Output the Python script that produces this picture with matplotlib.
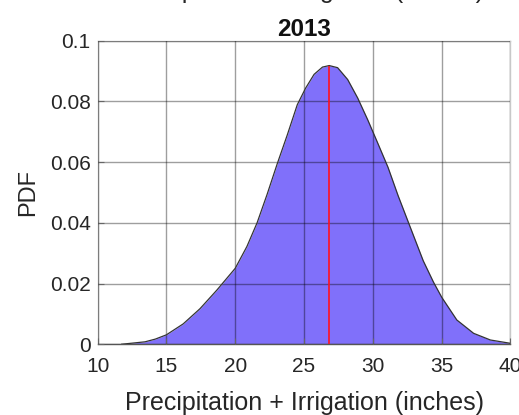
import numpy as np
import matplotlib.pyplot as plt

plt.rcParams['font.family'] = ['Liberation Sans', 'DejaVu Sans']

# kernel density estimate of seasonal water input (precip + irrigation), 2013
water_in = [11.75, 12.6, 13.45, 14.2, 15.0, 16.22, 17.44, 18.66, 20.0,
            20.85, 21.59, 22.32, 23.05, 23.78, 24.51, 25.12, 25.73, 26.34,
            26.83, 27.44, 28.17, 28.9, 29.63, 30.37, 31.1, 31.83, 32.68,
            33.66, 34.4, 35.0, 36.1, 37.32, 38.54, 40.0]
pdf = [0.0, 0.0004, 0.0008, 0.0017, 0.0031, 0.0067, 0.0117, 0.0178, 0.025,
       0.0322, 0.040, 0.0494, 0.0594, 0.0689, 0.0789, 0.0844, 0.0889, 0.0913,
       0.0918, 0.0911, 0.0872, 0.0811, 0.0739, 0.0661, 0.0583, 0.049, 0.039,
       0.0275, 0.0205, 0.0155, 0.008, 0.0036, 0.0014, 0.0003]
mode_x = 26.83
mode_pdf = 0.0918

xticks = [10, 15, 20, 25, 30, 35, 40]
yticks = [0, 0.02, 0.04, 0.06, 0.08, 0.1]
ytick_labels = ['0', '0.02', '0.04', '0.06', '0.08', '0.1']

fig = plt.figure(figsize=(5.19, 4.15), dpi=100)
ax = fig.add_axes([0.188, 0.1705, 0.7956, 0.7315])

ax.fill_between(water_in, pdf, 0, color='#8070fa', lw=0, zorder=1)
ax.plot(water_in, pdf, color='#333333', lw=0.9, zorder=3)
ax.vlines(mode_x, 0, mode_pdf, color='#ff1020', lw=1.2, zorder=4)

ax.set_xlim(10, 40)
ax.set_ylim(0, 0.1)
ax.set_xticks(xticks)
ax.set_yticks(yticks)
ax.set_yticklabels(ytick_labels)
ax.grid(True, color='black', alpha=0.38, lw=1.0, zorder=2)
ax.set_axisbelow(False)

for s in ax.spines.values():
    s.set_color('#c8c8c8')
    s.set_linewidth(1.0)
ax.spines['bottom'].set_color('#555555')
ax.tick_params(direction='in', length=4, color='#666666', labelsize=15,
               labelcolor='#262626')
ax.tick_params(axis='x', pad=9)
ax.tick_params(axis='y', pad=5)
ax.tick_params(top=False, right=False)

ax.set_xlabel('Precipitation + Irrigation (inches)', fontsize=18,
              color='#262626', labelpad=11)
ax.set_ylabel('PDF', fontsize=17, color='#262626', labelpad=8)
ax.set_title('2013', fontsize=17.5, fontweight='bold', color='#111111', pad=3)

# upper title line sits mostly above the figure edge
fig.text(0.586, 1.006, 'Precipitation + Irrigation (inches)', fontsize=18,
         ha='center', va='baseline', color='#262626')

fig.savefig('out.png', dpi=100)
